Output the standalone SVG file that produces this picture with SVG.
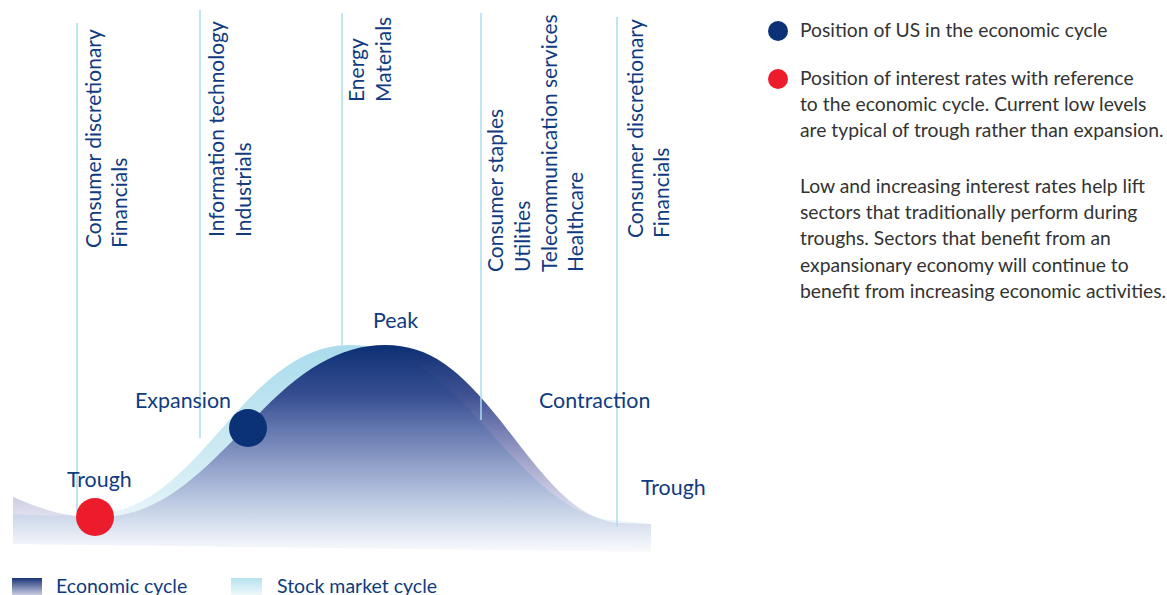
<svg xmlns="http://www.w3.org/2000/svg" width="1167" height="595" viewBox="0 0 1167 595">
<style>
.lbl{font-family:Lato,"Open Sans","Liberation Sans",sans-serif;fill:#103b80;}
.sec{font-size:21px;}
.phase{font-size:21.4px;}
.leg{font-size:19.5px;}
.note{font-family:Lato,"Open Sans","Liberation Sans",sans-serif;font-size:19.3px;fill:#333;}
.vline{stroke:#a9dcec;stroke-width:1.5;fill:none;}
</style>
<defs>
<linearGradient id="gStock" gradientUnits="userSpaceOnUse" x1="0" y1="345" x2="0" y2="552">
<stop offset="0" stop-color="#aadcec"/>
<stop offset="0.7" stop-color="#d9eff6"/>
<stop offset="1" stop-color="#ffffff"/>
</linearGradient>
<linearGradient id="gEcon" gradientUnits="userSpaceOnUse" x1="0" y1="345" x2="0" y2="552">
<stop offset="0" stop-color="#0d2f74" stop-opacity="1"/>
<stop offset="0.25" stop-color="#263b85" stop-opacity="0.88"/>
<stop offset="0.5" stop-color="#464e98" stop-opacity="0.6"/>
<stop offset="0.75" stop-color="#6767ab" stop-opacity="0.3"/>
<stop offset="1" stop-color="#8080c0" stop-opacity="0.04"/>
</linearGradient>
<linearGradient id="gSwE" x1="0" y1="0" x2="0" y2="1">
<stop offset="0" stop-color="#1a3478"/>
<stop offset="1" stop-color="#c9cde3"/>
</linearGradient>
<linearGradient id="gSwS" x1="0" y1="0" x2="0" y2="1">
<stop offset="0" stop-color="#b7e2ef"/>
<stop offset="1" stop-color="#eef8fb"/>
</linearGradient>
</defs>

<g id="cycles">
<path id="stock-cycle" fill="url(#gStock)" d="M13,514 C45,516 70,516 97,514 C150,511 185,470 225,425 C268,375 305,345 350,345 C395,345 430,368 470,410 C520,465 560,515 612,520 L651,524 L651,552 L13,544 Z"/>
<path id="economic-cycle" fill="url(#gEcon)" d="M13,497 C45,511 70,518 100,517 C165,516 205,468 255,418 C300,370 340,345 385,345 C430,345 460,370 500,420 C545,478 575,520 620,523 L651,524 L651,552 L13,544 Z"/>
</g>

<g id="connectors">
<line class="vline" x1="77" y1="23" x2="77" y2="512"/>
<line class="vline" x1="200" y1="10" x2="200" y2="438"/>
<line class="vline" x1="342" y1="13" x2="342" y2="345"/>
<line class="vline" x1="481" y1="13" x2="481" y2="420"/>
<line class="vline" x1="617" y1="17" x2="617" y2="527"/>
</g>

<g id="sectors-trough" class="lbl sec">
<text transform="translate(101,248) rotate(-90)">Consumer discretionary</text>
<text transform="translate(127,248) rotate(-90)">Financials</text>
</g>
<g id="sectors-expansion" class="lbl sec">
<text transform="translate(224,237) rotate(-90)">Information technology</text>
<text transform="translate(251,237) rotate(-90)">Industrials</text>
</g>
<g id="sectors-peak" class="lbl sec">
<text transform="translate(364,102) rotate(-90)">Energy</text>
<text transform="translate(391,102) rotate(-90)">Materials</text>
</g>
<g id="sectors-contraction" class="lbl sec">
<text transform="translate(503,272) rotate(-90)">Consumer staples</text>
<text transform="translate(530,272) rotate(-90)">Utilities</text>
<text transform="translate(557,272) rotate(-90)">Telecommunication services</text>
<text transform="translate(583,272) rotate(-90)">Healthcare</text>
</g>
<g id="sectors-trough2" class="lbl sec">
<text transform="translate(643,238) rotate(-90)">Consumer discretionary</text>
<text transform="translate(669,238) rotate(-90)">Financials</text>
</g>

<g id="phase-labels" class="lbl phase">
<text x="67" y="487">Trough</text>
<text x="135" y="408">Expansion</text>
<text x="373" y="328">Peak</text>
<text x="539" y="408">Contraction</text>
<text x="641" y="495">Trough</text>
</g>

<g id="markers">
<circle id="us-position" cx="248" cy="428" r="19" fill="#0b3276"/>
<circle id="rates-position" cx="95" cy="517" r="19" fill="#ec1c2d"/>
</g>

<g id="legend-bottom">
<rect x="12" y="578" width="30" height="17" fill="url(#gSwE)"/>
<text class="lbl leg" x="56" y="593">Economic cycle</text>
<rect x="231" y="578" width="31" height="17" fill="url(#gSwS)"/>
<text class="lbl leg" x="277" y="593">Stock market cycle</text>
</g>

<g id="legend-right">
<circle cx="778" cy="31" r="10" fill="#0b3276"/>
<text class="note" x="800" y="37">Position of US in the economic cycle</text>
<circle cx="778" cy="79" r="10" fill="#ec1c2d"/>
<text class="note" x="800" y="85">Position of interest rates with reference</text>
<text class="note" x="800" y="111">to the economic cycle. Current low levels</text>
<text class="note" x="800" y="137">are typical of trough rather than expansion.</text>
<text class="note" x="800" y="193">Low and increasing interest rates help lift</text>
<text class="note" x="800" y="219">sectors that traditionally perform during</text>
<text class="note" x="800" y="245">troughs. Sectors that benefit from an</text>
<text class="note" x="800" y="272">expansionary economy will continue to</text>
<text class="note" x="800" y="298">benefit from increasing economic activities.</text>
</g>
</svg>
